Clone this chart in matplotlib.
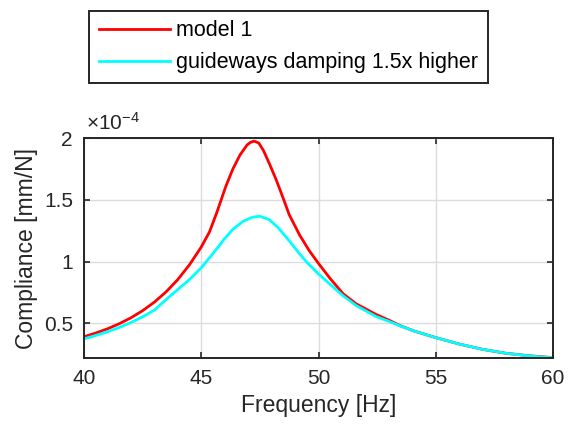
import matplotlib
matplotlib.use("Agg")
import matplotlib.pyplot as plt

plt.rcParams["font.family"] = ["Liberation Sans", "DejaVu Sans"]
plt.rcParams["mathtext.default"] = "regular"

# values (compliance in 1e-4 mm/N)
freq_model = [40.0, 40.5, 41.0, 41.5, 42.0, 42.5, 43.0, 43.5, 44.0, 44.5,
              45.0, 45.35, 45.65, 45.85, 46.05, 46.35, 46.65, 46.95, 47.1, 47.25,
              47.45, 47.65, 47.9, 48.2, 48.5, 48.75, 49.2, 49.6, 50.0, 50.5,
              51.05, 51.6, 52.45, 53.05, 53.5, 54.1, 55.0, 56.0, 57.0, 58.0,
              59.0, 60.0]
comp_model = [0.392, 0.422, 0.456, 0.497, 0.545, 0.603, 0.672, 0.755, 0.855, 0.975,
              1.118, 1.24, 1.39, 1.50, 1.61, 1.75, 1.862, 1.943, 1.965, 1.975,
              1.96, 1.90, 1.795, 1.66, 1.51, 1.38, 1.213, 1.09, 0.985, 0.862,
              0.74, 0.659, 0.573, 0.522, 0.48, 0.437, 0.385, 0.333, 0.29, 0.258,
              0.238, 0.223]

freq_damped = [40.0, 40.5, 41.0, 41.5, 42.0, 42.5, 43.0, 43.6, 44.1, 44.5,
               45.0, 45.5, 45.95, 46.35, 46.8, 47.2, 47.5, 47.9, 48.3, 48.7,
               49.1, 49.5, 50.0, 50.5, 51.05, 51.6, 52.45, 53.05, 53.5, 54.1,
               55.0, 56.0, 57.0, 58.0, 59.0, 60.0]
comp_damped = [0.375, 0.402, 0.432, 0.467, 0.507, 0.553, 0.607, 0.71, 0.79, 0.855,
               0.95, 1.065, 1.175, 1.262, 1.328, 1.36, 1.367, 1.34, 1.27, 1.18,
               1.085, 0.995, 0.9, 0.815, 0.723, 0.645, 0.556, 0.513, 0.478, 0.437,
               0.385, 0.333, 0.29, 0.258, 0.237, 0.222]

labels = ["model 1", "guideways damping 1.5x higher"]
xticks = [40, 45, 50, 55, 60]
yticks = [0.5, 1, 1.5, 2]
ytick_labels = ["0.5", "1", "1.5", "2"]

dark = "#262626"
fig = plt.figure(figsize=(5.73, 4.29), dpi=100)
ax = fig.add_axes([0.1466, 0.1655, 0.8185, 0.5128])

l1, = ax.plot(freq_model, comp_model, color="#ff0000", lw=2.0,
              solid_joinstyle="round")
l2, = ax.plot(freq_damped, comp_damped, color="#00ffff", lw=2.0,
              solid_joinstyle="round")

ax.set_xlim(40, 60)
ax.set_ylim(0.22, 2.0)
ax.set_xticks(xticks)
ax.set_yticks(yticks)
ax.set_yticklabels(ytick_labels)
ax.grid(True, color="#dcdcdc", lw=1.0)
ax.set_axisbelow(True)
ax.tick_params(direction="in", top=True, right=True, length=4, width=1.2,
               colors=dark, labelsize=15, pad=8, labelcolor=dark)
for s in ax.spines.values():
    s.set_linewidth(1.4)
    s.set_color(dark)

ax.set_xlabel("Frequency [Hz]", fontsize=16.5, color=dark, labelpad=4)
ax.set_ylabel("Compliance [mm/N]", fontsize=16.5, color=dark, labelpad=4)
ax.text(0.005, 1.02, r"$\times10^{-4}$", transform=ax.transAxes, fontsize=15,
        color=dark, ha="left", va="bottom")

leg = fig.legend([l1, l2], labels, loc="upper left",
                 bbox_to_anchor=(0.1553, 0.975), fontsize=15.5,
                 fancybox=False, framealpha=1, edgecolor=dark,
                 handlelength=3.3, handletextpad=0.3, borderpad=0.45,
                 labelspacing=0.5, borderaxespad=0)
leg.get_frame().set_linewidth(1.4)

fig.savefig("out.png", dpi=100)
